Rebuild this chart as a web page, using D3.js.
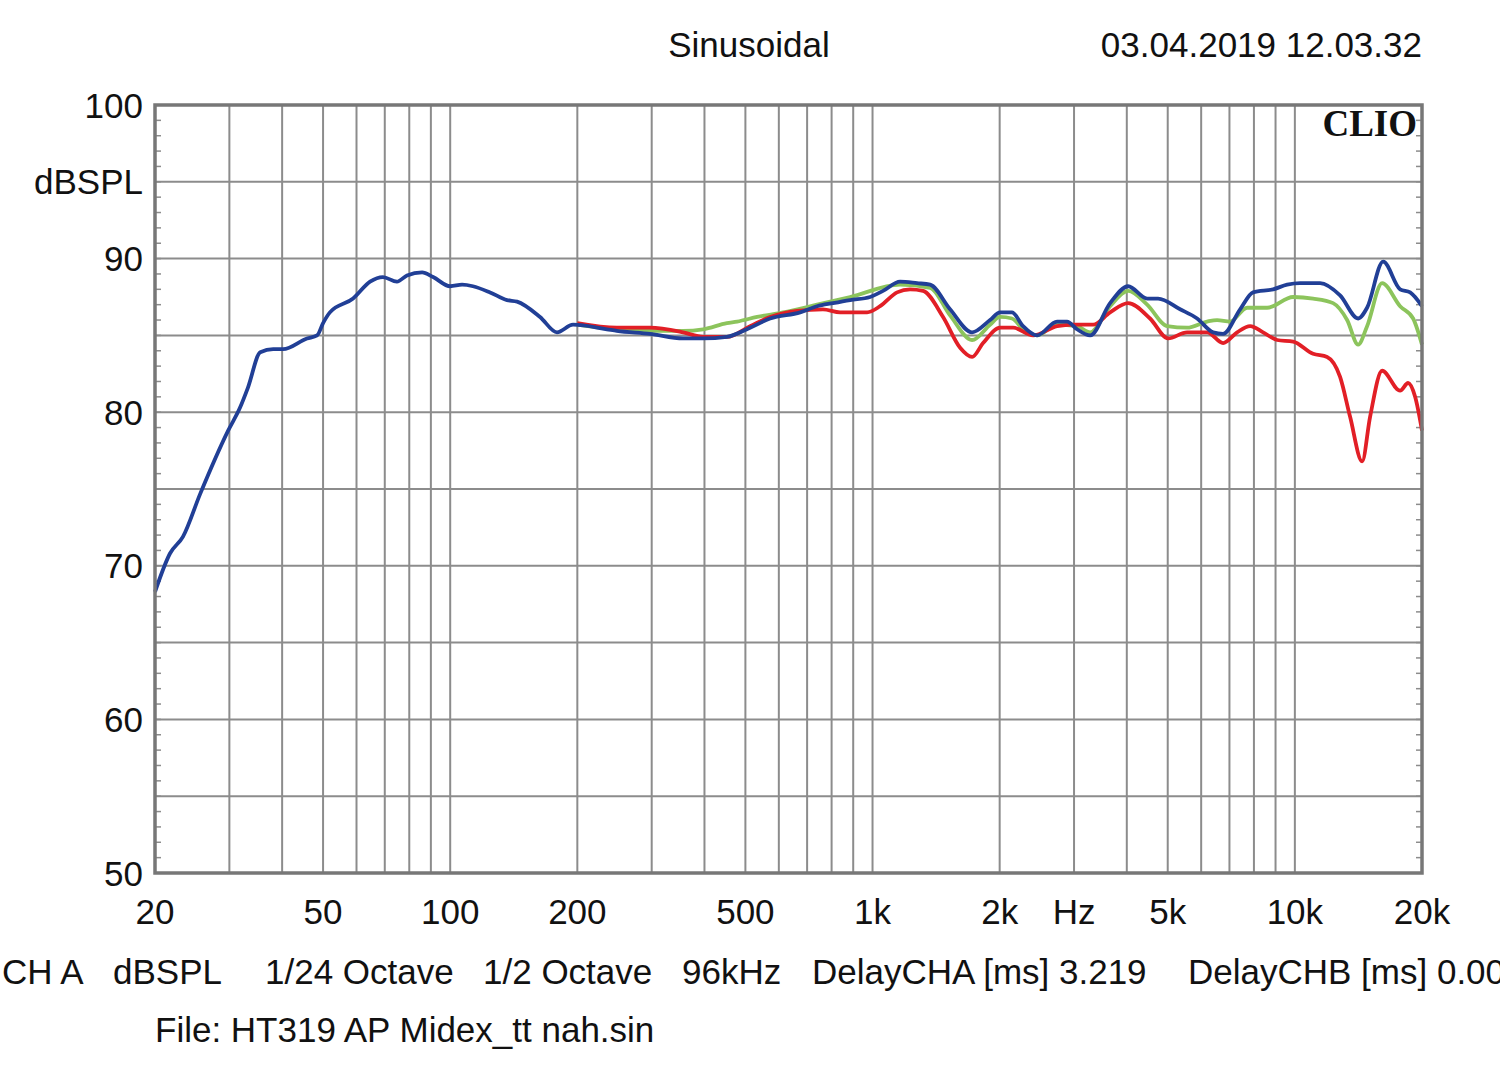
<!DOCTYPE html>
<html><head><meta charset="utf-8">
<script src="https://cdn.jsdelivr.net/npm/d3@7"></script>
<style>
html,body{margin:0;padding:0;background:#fff;}
svg{display:block;}
text{font-family:"Liberation Sans",Arial,sans-serif;fill:#111;}
</style></head>
<body>
<svg id="chart" width="1500" height="1074"></svg>
<script>
// ---- data ----
const blueFreq = [20,21.7,23.3,25.6,29.8,31.8,33.2,35.5,38.1,40.2,45.8,48.4,50,51.9,58.9,64.6,69.3,74.8,79,85.8,91.1,100,106.7,113.2,124.3,136.3,144,163.2,179,195.4,235,248,297,356,397,452,513,572,674,739,806,885,987,1059,1162,1275,1369,1526,1721,1898,2004,2139,2272,2453,2735,2888,3050,3276,3652,4029,4469,4744,5349,5869,6403,6761,7420,7962,8883,9588,10290,11476,12796,14120,14826,16180,17750,18748,20000];
const blueDb = [68.3,70.8,71.9,74.7,78.8,80.3,81.6,83.9,84.1,84.1,84.8,85.0,85.8,86.5,87.4,88.5,88.8,88.5,88.9,89.1,88.8,88.2,88.3,88.2,87.8,87.3,87.2,86.2,85.2,85.7,85.4,85.3,85.1,84.8,84.8,84.9,85.5,86.1,86.5,86.9,87.1,87.3,87.5,87.9,88.5,88.4,88.3,86.7,85.2,86.0,86.5,86.5,85.6,85.0,85.9,85.9,85.4,85.0,87.1,88.2,87.4,87.4,86.7,86.1,85.2,85.1,86.7,87.8,88.0,88.3,88.4,88.4,87.6,86.1,86.8,89.8,88.0,87.8,86.9];

const greenFreq = [200,248,297,356,397,452,478,533,614,739,885,1162,1369,1526,1721,1898,2004,2139,2272,2453,2735,3050,3276,3652,4029,4469,4983,5556,6198,6544,7025,7708,8596,9906,11046,12318,13296,14120,14826,16092,17750,19056,20000];
const greenDb = [85.7,85.4,85.3,85.3,85.4,85.8,85.9,86.2,86.5,87.0,87.5,88.3,88.1,86.3,84.7,85.7,86.2,86.1,85.4,85.0,85.7,85.6,85.2,86.9,87.9,87.0,85.6,85.5,85.9,86.0,85.9,86.8,86.8,87.5,87.4,87.1,86.0,84.4,85.6,88.4,86.9,86.1,84.4];

const redFreq = [200,248,297,356,397,452,513,572,663,763,838,971,1042,1143,1227,1317,1469,1612,1721,1827,2004,2152,2400,2735,2984,3329,3652,4029,4541,5010,5556,6198,6761,7298,7836,8410,9079,9906,11046,11922,12796,13514,14432,15070,16092,17750,18540,19264,20000];
const redDb = [85.8,85.5,85.5,85.2,84.9,84.9,85.6,86.2,86.6,86.7,86.5,86.5,86.9,87.8,88.0,87.9,86.2,84.2,83.6,84.5,85.5,85.5,85.0,85.6,85.7,85.7,86.5,87.1,86.1,84.8,85.2,85.2,84.5,85.2,85.6,85.2,84.7,84.6,83.8,83.6,82.3,79.7,76.8,79.7,82.7,81.4,81.9,81.0,78.8];

const xGridFreqs = [30,40,50,60,70,80,90,100,200,300,400,500,600,700,800,900,1000,2000,3000,4000,5000,6000,7000,8000,9000,10000];
const xTickVals = [20,50,100,200,500,1000,2000,3000,5000,10000,20000];
const xTickLabels = ["20","50","100","200","500","1k","2k","Hz","5k","10k","20k"];
const yGridVals = [55,60,65,70,75,80,85,90,95];
const yTickVals = [100,95,90,80,70,60,50];
const yTickLabels = ["100","dBSPL","90","80","70","60","50"];
const yMinorVals = d3.range(51,100);
const titleText = "Sinusoidal";
const dateText = "03.04.2019 12.03.32";
const brandText = "CLIO";
const infoItems = ["CH A","dBSPL","1/24 Octave","1/2 Octave","96kHz","DelayCHA [ms] 3.219","DelayCHB [ms] 0.00"];
const infoX = [2,113,265,483,682,812,1188];
const fileText = "File: HT319 AP Midex_tt nah.sin";

// ---- layout ----
const L=155, R=1422, T=105, B=873;
const svg = d3.select("#chart");
const x = d3.scaleLog().domain([20,20000]).range([L,R]);
const y = d3.scaleLinear().domain([50,100]).range([B,T]);
const FS = 35;

// grid
svg.append("g").selectAll("line").data(xGridFreqs).join("line")
  .attr("x1",d=>x(d)).attr("x2",d=>x(d)).attr("y1",T).attr("y2",B)
  .attr("stroke","#8c8c8c").attr("stroke-width",2);
svg.append("g").selectAll("line").data(yGridVals).join("line")
  .attr("x1",L).attr("x2",R).attr("y1",d=>y(d)).attr("y2",d=>y(d))
  .attr("stroke","#8c8c8c").attr("stroke-width",2);
// minor ticks left/right
const minor = svg.append("g");
minor.selectAll("line.l").data(yMinorVals).join("line").attr("class","l")
  .attr("x1",L).attr("x2",L+6).attr("y1",d=>y(d)).attr("y2",d=>y(d))
  .attr("stroke","#8c8c8c").attr("stroke-width",1.5);
minor.selectAll("line.r").data(yMinorVals).join("line").attr("class","r")
  .attr("x1",R-6).attr("x2",R).attr("y1",d=>y(d)).attr("y2",d=>y(d))
  .attr("stroke","#8c8c8c").attr("stroke-width",1.5);

// curves
const line = d3.line().x(d=>x(d[0])).y(d=>y(d[1])).curve(d3.curveMonotoneX);
const series = [
  {f:greenFreq, v:greenDb, c:"#8cc45c"},
  {f:redFreq, v:redDb, c:"#e21f26"},
  {f:blueFreq, v:blueDb, c:"#213f96"}
];
svg.append("g").selectAll("path").data(series).join("path")
  .attr("d",s=>line(s.f.map((f,i)=>[f,s.v[i]])))
  .attr("fill","none").attr("stroke",s=>s.c).attr("stroke-width",3.8)
  .attr("stroke-linejoin","round");

// frame
svg.append("rect").attr("x",L).attr("y",T).attr("width",R-L).attr("height",B-T)
  .attr("fill","none").attr("stroke","#777").attr("stroke-width",3.5);

// y labels
svg.append("g").selectAll("text").data(yTickVals).join("text")
  .attr("x",143).attr("y",d=>y(d)).attr("dy","0.36em").attr("text-anchor","end")
  .attr("font-size",FS).text((d,i)=>yTickLabels[i]);
// x labels
svg.append("g").selectAll("text").data(xTickVals).join("text")
  .attr("x",d=>x(d)).attr("y",924).attr("text-anchor","middle")
  .attr("font-size",FS).text((d,i)=>xTickLabels[i]);

// titles
svg.append("text").attr("x",749).attr("y",57).attr("text-anchor","middle").attr("font-size",FS).text(titleText);
svg.append("text").attr("x",1422).attr("y",57).attr("text-anchor","end").attr("font-size",FS).text(dateText);
svg.append("text").attr("x",1417).attr("y",136).attr("text-anchor","end")
  .style("font-family","'Liberation Serif','Times New Roman',serif").attr("font-weight","bold")
  .attr("font-size",37).text(brandText);

// info
svg.append("g").selectAll("text").data(infoItems).join("text")
  .attr("x",(d,i)=>infoX[i]).attr("y",984).attr("font-size",FS).text(d=>d);
svg.append("text").attr("x",155).attr("y",1042).attr("font-size",FS).text(fileText);
</script>
</body></html>
